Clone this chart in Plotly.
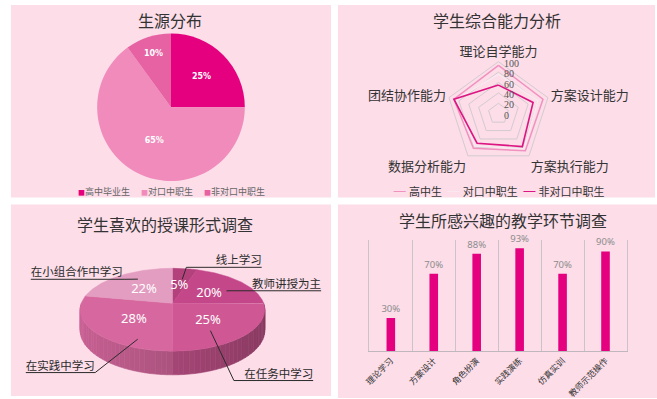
import numpy as np
import plotly.graph_objects as go

W, H = 657, 399
CJK = "Noto Sans CJK SC"

# ---------------- data ----------------
# Panel 1: 生源分布
SRC_LABELS = ["高中毕业生", "对口中职生", "非对口中职生"]
SRC_VALUES = [25, 65, 10]

# Panel 2: 学生综合能力分析
ABILITY_AXES = ["理论自学能力", "方案设计能力", "方案执行能力", "数据分析能力", "团结协作能力"]
SERIES_NAMES = ["高中生", "对口中职生", "非对口中职生"]
HS_VALUES = [93, 90, 88, 82, 90]
DK_VALUES = [76, 80, 83, 77, 86]
FDK_VALUES = [55, 70, 78, 70, 90]
RADIAL_TICKVALS = [0, 20, 40, 60, 80, 100]
RADIAL_TICKTEXT = ["0", "20", "40", "60", "80", "100"]

# Panel 3: 学生喜欢的授课形式调查
FORM_LABELS = ["线上学习", "教师讲授为主", "在任务中学习", "在实践中学习", "在小组合作中学习"]
FORM_VALUES = [5, 20, 25, 28, 22]

# Panel 4: 学生所感兴趣的教学环节调查
LINK_LABELS = ["理论学习", "方案设计", "角色扮演", "实践演练", "仿真实训", "教师示范操作"]
LINK_VALUES = [30, 70, 88, 93, 70, 90]

# ---------------- styles ----------------
PANEL_BG = "#fcdde8"
TITLE_COLOR = "#333333"
SRC_COLORS = ["#e5007f", "#f08bbb", "#e662a3"]
RADAR_COLORS = ["#f091bf", "#fae8f0", "#dc1582"]
FORM_COLORS = ["#b2417c", "#c4478a", "#cf5894", "#d7689f", "#e39dc1"]
BAR_COLOR = "#e4007f"
GRID = "#d4cbd0"


def px(x):
    return x / W


def py(y):
    return 1 - y / H


fig = go.Figure()

# ---------- Panel 1: pie ----------
fig.add_trace(go.Pie(
    labels=SRC_LABELS, values=SRC_VALUES, sort=False, direction="clockwise", rotation=0,
    marker=dict(colors=SRC_COLORS, line=dict(width=0)),
    texttemplate="%{value}%", textposition="inside", insidetextorientation="horizontal",
    textfont=dict(color="white", size=8, family="DejaVu Sans", weight="bold"),
    domain=dict(x=[px(92), px(241)], y=[py(182), py(33)]),
    showlegend=False, hoverinfo="skip",
))

# ---------- Panel 2: radar ----------
for name, vals, col, w in zip(SERIES_NAMES, [HS_VALUES, DK_VALUES, FDK_VALUES], RADAR_COLORS, [1.5, 1.5, 1.6]):
    fig.add_trace(go.Scatterpolar(
        r=vals + vals[:1], theta=ABILITY_AXES + ABILITY_AXES[:1], mode="lines",
        line=dict(color=col, width=w), name=name, showlegend=False, hoverinfo="skip",
    ))

# ---------- Panel 4: bars ----------
fig.add_trace(go.Bar(
    x=LINK_LABELS, y=LINK_VALUES, marker=dict(color=BAR_COLOR, line=dict(width=0)),
    text=[f"{v}%" for v in LINK_VALUES], textposition="outside", cliponaxis=False,
    constraintext="none",
    textfont=dict(color="#8c8c8c", size=9.5, family="Noto Sans"),
    xaxis="x", yaxis="y", showlegend=False, hoverinfo="skip",
))

# ---------- Panel 3: pseudo-3D pie ----------
CX, CY, RX, RY, PERSP, DEPTH = 168, 304, 92, 40.5, 0.157, 20
ANCHOR_T = [0.57, 0.62, 0.65, 0.23, 0.59]
ANCHOR_R = [0.665, 0.70, 0.72, 0.85, 0.78]
ELBOWS = [(182, 268), (224, 291.5), (230, 381.5), (90, 373.5), (120, 280)]
LINE_END_X = [258, 318, 310, 20, 25]


def proj(phi, r=1.0, drop=0.0):
    x3 = r * np.sin(phi)
    z = -r * np.cos(phi)
    f = 1.0 / (1.0 - PERSP * z)
    return CX + RX * x3 * f, CY + RY * z * f + drop * f


def shade(hexcol, k):
    h = hexcol.lstrip("#")
    rgb = [int(h[i:i + 2], 16) for i in (0, 2, 4)]
    return "rgb({},{},{})".format(*[max(0, min(255, int(c * k))) for c in rgb])


total = float(sum(FORM_VALUES))
bounds = np.concatenate([[0], np.cumsum(FORM_VALUES)]) / total * 2 * np.pi

# sides (front half only)
for i in range(len(FORM_VALUES)):
    a0, a1 = max(bounds[i], np.pi / 2), min(bounds[i + 1], 3 * np.pi / 2)
    if a1 <= a0:
        continue
    n = max(1, int(np.ceil((a1 - a0) / np.radians(3))))
    edges = np.linspace(a0, a1, n + 1)
    for s0, s1 in zip(edges[:-1], edges[1:]):
        ph = np.linspace(s0, s1, 4)
        xs, ys = [], []
        for p in ph:
            x, y = proj(p)
            xs.append(x); ys.append(y)
        for p in ph[::-1]:
            x, y = proj(p, drop=DEPTH)
            xs.append(x); ys.append(y)
        xs.append(xs[0]); ys.append(ys[0])
        k = 0.80 - 0.14 * np.sin((s0 + s1) / 2)
        c = shade(FORM_COLORS[i], k)
        fig.add_trace(go.Scatter(x=xs, y=ys, mode="lines", fill="toself", fillcolor=c,
                                 line=dict(color=c, width=0.6), xaxis="x2", yaxis="y2",
                                 showlegend=False, hoverinfo="skip"))

# top faces
for i in range(len(FORM_VALUES)):
    ph = np.linspace(bounds[i], bounds[i + 1], max(3, int(np.degrees(bounds[i + 1] - bounds[i])) + 1))
    xs, ys = [CX], [CY]
    for p in ph:
        x, y = proj(p)
        xs.append(x); ys.append(y)
    xs.append(CX); ys.append(CY)
    fig.add_trace(go.Scatter(x=xs, y=ys, mode="lines", fill="toself", fillcolor=FORM_COLORS[i],
                             line=dict(color=FORM_COLORS[i], width=0.5), xaxis="x2", yaxis="y2",
                             showlegend=False, hoverinfo="skip"))

# inside percentage labels
lx, ly, lt = [], [], []
for i, v in enumerate(FORM_VALUES):
    mid = (bounds[i] + bounds[i + 1]) / 2
    x, y = proj(mid, r=0.52)
    lx.append(x); ly.append(y + 2); lt.append(f"{v}%")
fig.add_trace(go.Scatter(x=lx, y=ly, mode="text", text=lt, textposition="middle center",
                         textfont=dict(color="white", size=13, family="Noto Sans"),
                         xaxis="x2", yaxis="y2", showlegend=False, hoverinfo="skip"))

# leader lines + outer labels
for i, lab in enumerate(FORM_LABELS):
    ang = bounds[i] + ANCHOR_T[i] * (bounds[i + 1] - bounds[i])
    ax_, ay_ = proj(ang, r=ANCHOR_R[i])
    ex, ey = ELBOWS[i]
    endx = LINE_END_X[i]
    fig.add_trace(go.Scatter(x=[ax_, ex, endx], y=[ay_, ey, ey], mode="lines",
                             line=dict(color="#2b2b2b", width=1), xaxis="x2", yaxis="y2",
                             showlegend=False, hoverinfo="skip"))
    pos = "top left" if endx > ex else "top right"
    fig.add_trace(go.Scatter(x=[endx], y=[ey], mode="text", text=[lab], textposition=pos,
                             textfont=dict(color="#2b2b2b", size=11.5, family=CJK),
                             xaxis="x2", yaxis="y2", showlegend=False, hoverinfo="skip"))

# ---------- layout ----------
shapes = []
for (x0, y0, x1, y1) in [(5, 5, 328, 198), (335, 5, 655, 198), (5, 205, 328, 397), (335, 205, 657, 399)]:
    shapes.append(dict(type="rect", xref="paper", yref="paper", x0=px(x0), x1=px(x1), y0=py(y1), y1=py(y0),
                       fillcolor=PANEL_BG, line=dict(width=0), layer="below"))

annotations = []
for txt, x, y in [("生源分布", 166, 20), ("学生综合能力分析", 496, 20),
                  ("学生喜欢的授课形式调查", 160, 225), ("学生所感兴趣的教学环节调查", 502, 220.5)]:
    annotations.append(dict(text=txt, x=px(x), y=py(y), xref="paper", yref="paper", showarrow=False,
                            xanchor="center", yanchor="middle",
                            font=dict(size=16, color=TITLE_COLOR, family=CJK)))

# pie legend (text based)
gap = "\u3000\u00a0"
pie_leg = gap.join(f"<span style='color:{c};font-size:7px'>■</span>{l}" for l, c in zip(SRC_LABELS, SRC_COLORS))
annotations.append(dict(text=pie_leg, x=px(167), y=py(191.5), xref="paper", yref="paper", showarrow=False,
                        xanchor="center", yanchor="middle", font=dict(size=9, color="#666666", family=CJK)))

# radar legend (text based)
rad_leg = "\u00a0\u00a0".join(
    f"<span style='color:{c};font-size:15px'>—</span>\u00a0{n}" for n, c in zip(SERIES_NAMES, RADAR_COLORS))
annotations.append(dict(text=rad_leg, x=px(498), y=py(190), xref="paper", yref="paper", showarrow=False,
                        xanchor="center", yanchor="middle", font=dict(size=11, color="#333333", family=CJK)))

fig.update_layout(
    width=W, height=H, margin=dict(l=0, r=0, t=0, b=0),
    paper_bgcolor="white", plot_bgcolor="rgba(0,0,0,0)",
    font=dict(family=CJK, color="#333333"),
    shapes=shapes, annotations=annotations, showlegend=False,
    bargap=0.8,
    polar=dict(
        domain=dict(x=[px(444.5), px(549.5)], y=[py(166.5), py(61.5)]),
        bgcolor="rgba(0,0,0,0)", gridshape="linear",
        angularaxis=dict(rotation=90, direction="clockwise", showgrid=False, showline=True,
                         linecolor=GRID, linewidth=1, ticks="",
                         tickfont=dict(size=13, color="#333333", family=CJK)),
        radialaxis=dict(range=[0, 100], tickvals=RADIAL_TICKVALS, ticktext=RADIAL_TICKTEXT,
                        showline=False, gridcolor=GRID, angle=90, ticks="",
                        tickfont=dict(size=10, color="#555555", family="Liberation Serif")),
    ),
    xaxis=dict(domain=[px(366.7), px(626.7)], anchor="y", tickangle=-45,
               tickfont=dict(size=8.5, color="#333333", family=CJK),
               showgrid=True, gridcolor="#cbc3c7", tickson="boundaries", ticks="",
               showline=True, linecolor="#bfb7bb", fixedrange=True),
    yaxis=dict(domain=[py(352.3), py(241)], anchor="x", range=[0, 100], showticklabels=False,
               showgrid=False, zeroline=False, showline=True, linecolor="#cbc3c7", mirror=True,
               fixedrange=True),
    xaxis2=dict(domain=[px(5), px(328)], anchor="y2", range=[5, 328], visible=False, fixedrange=True),
    yaxis2=dict(domain=[py(397), py(205)], anchor="x2", range=[397, 205], visible=False, fixedrange=True),
)

fig.write_html("out.html")
